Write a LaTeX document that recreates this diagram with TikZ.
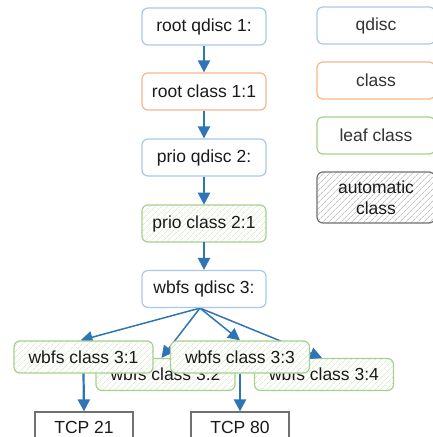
\documentclass[tikz,border=0pt]{standalone}
\usepackage{fontspec}
\setmainfont{Liberation Sans}
\usetikzlibrary{arrows.meta, positioning, patterns.meta, backgrounds}
\definecolor{qdline}{HTML}{A9C8EB}
\definecolor{clline}{HTML}{F5B88A}
\definecolor{leafline}{HTML}{A8D08D}
\definecolor{leafhatch}{HTML}{C9E3B8}
\definecolor{autoline}{HTML}{707070}
\definecolor{autohatch}{HTML}{A6A6A6}
\definecolor{flow}{HTML}{2E75B6}
\definecolor{ink}{HTML}{1A1A1A}
\definecolor{legink}{HTML}{333333}

\begin{document}
\begin{tikzpicture}[x=1pt, y=-1pt, font=\fontsize{17.5}{21}\selectfont,
   qd/.style={rectangle, rounded corners=6pt, draw=qdline, line width=1.2pt,
     fill=white, minimum width=124pt, minimum height=37pt, text=ink,
     inner sep=2pt},
   cl/.style={qd, draw=clline},
   leaf/.style={qd, draw=leafline, fill=none, preaction={fill=white},
     pattern={Lines[angle=45, distance=4pt, line width=0.6pt]},
     pattern color=leafhatch},
   auto/.style={qd, draw=autoline, fill=none, preaction={fill=white},
     pattern={Lines[angle=45, distance=4pt, line width=0.6pt]},
     pattern color=autohatch, align=center, minimum height=51pt},
   legend/.style={minimum width=118pt, text=legink},
   wc/.style={leaf, minimum width=139pt, minimum height=32pt},
   tcp/.style={rectangle, draw=autoline, line width=1.2pt, fill=white,
     minimum width=98pt, minimum height=30pt, text=ink},
   ar/.style={-{Triangle[length=12pt, width=12pt]}, line width=2.2pt,
     draw=flow, fill=flow},
   arfan/.style={ar, line width=1.5pt}]
 \useasboundingbox (0,0) rectangle (433,437);
 % main chain
 \node[qd] (q1) at (204,26.5) {root qdisc 1:};
 \node[cl] (c11) at (204,91.5) {root class 1:1};
 \node[qd] (q2) at (204,157.5) {prio qdisc 2:};
 \node[leaf] (c21) at (204,223.5) {prio class 2:1};
 \node[qd] (q3) at (204,289) {wbfs qdisc 3:};
 \draw[ar] (q1)--(c11); \draw[ar] (c11)--(q2); \draw[ar] (q2)--(c21);
 \draw[ar] (c21)--(q3);
 % legend
 \node[qd, legend] (lq) at (376,25.5) {qdisc};
 \node[cl, legend] (lc) at (376,80.5) {class};
 \node[qd, draw=leafline, legend] (ll) at (376,135.5) {leaf class};
 \node[auto, legend, text=ink] (la) at (376,197.5) {automatic\\class};
 % wbfs classes
 \node[wc] (c31) at (83.5,357) {wbfs class 3:1};
 \node[wc] (c33) at (240,357) {wbfs class 3:3};
 \begin{scope}[on background layer]
  \node[wc] (c32) at (165.5,374.5) {wbfs class 3:2};
  \node[wc] (c34) at (324,374.5) {wbfs class 3:4};
  \coordinate (fan) at ([xshift=-4pt]q3.south);
  \draw[arfan] (fan)--([xshift=-4pt]c32.north);
  \draw[arfan] (fan)--([xshift=-2pt]c34.north);
  \draw[arfan] (fan)--([xshift=-3pt]c31.north);
  \draw[arfan] (fan)--(c33.north);
 \end{scope}
 \node[tcp] (t21) at (84,427) {TCP 21};
 \node[tcp] (t80) at (240,427) {TCP 80};
 \draw[ar] (c31.south)--(t21.north); \draw[ar] (c33.south)--(t80.north);
\end{tikzpicture}
\end{document}
